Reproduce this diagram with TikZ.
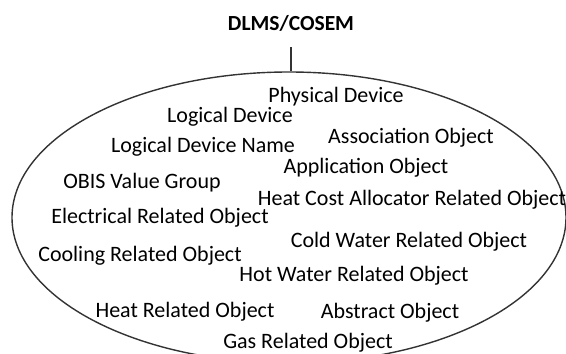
\documentclass[tikz,border=0pt]{standalone}
\usepackage{fontspec}
\setmainfont{Carlito}
\usetikzlibrary{shapes.geometric}
\begin{document}
\begin{tikzpicture}[x=1pt,y=-1pt,
  lbl/.style={inner sep=0pt, anchor=base, text=black, font=\fontsize{22}{26}\selectfont},
  ttl/.style={inner sep=0pt, anchor=base, text=black, font=\fontsize{21.5}{25}\selectfont\bfseries},
  outline/.style={draw=black!80, line width=1.4pt}]
\useasboundingbox (0,0) rectangle (566,354);
\node[ttl] (title) at (291,30) {DLMS/COSEM};
\node[ellipse, outline, minimum width=554pt, minimum height=291pt, inner sep=0pt] (ell) at (289,217.5) {};
\coordinate (top) at ([yshift=-17pt]title.base);
\draw[outline] (top) -- (top |- ell.north);
\node[lbl] (pd)   at (336,102) {Physical Device};
\node[lbl] (ld)   at (230,122) {Logical Device};
\node[lbl] (ldn)  at (203,152) {Logical Device Name};
\node[lbl] (ao)   at (411,143) {Association Object};
\node[lbl] (apo)  at (366,173) {Application Object};
\node[lbl] (obis) at (142,188) {OBIS Value Group};
\node[lbl] (hca)  at (412,205) {Heat Cost Allocator Related Object};
\node[lbl] (el)   at (160,223) {Electrical Related Object};
\node[lbl] (cw)   at (409,247) {Cold Water Related Object};
\node[lbl] (co)   at (140,261) {Cooling Related Object};
\node[lbl] (hw)   at (354,281) {Hot Water Related Object};
\node[lbl] (hr)   at (185,317) {Heat Related Object};
\node[lbl] (ab)   at (390,318) {Abstract Object};
\node[lbl] (gas)  at (308,348) {Gas Related Object};
\end{tikzpicture}
\end{document}
